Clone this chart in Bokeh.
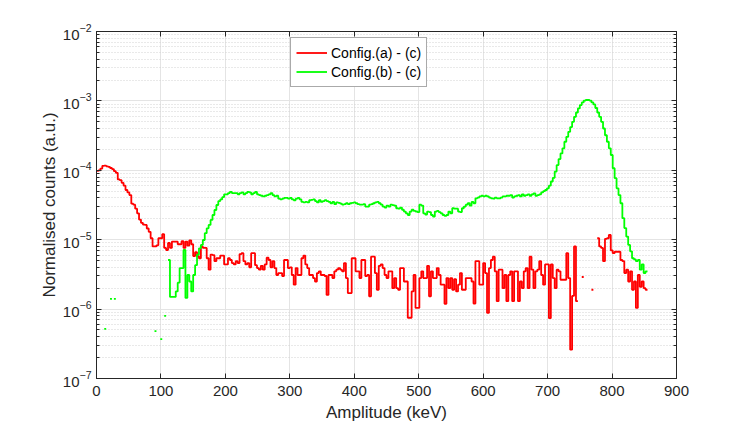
from bokeh.plotting import figure
from bokeh.models import (LinearAxis, LogAxis, FixedTicker, Legend, LegendItem,
                          CustomJSTickFormatter, Range1d)
from bokeh.embed import file_html
from bokeh.resources import INLINE

nan = float("nan")

# ---------------- data ----------------
# histogram bin edges (keV), 3 keV bins from 0 to 855
bin_edges_kev = list(range(0, 858, 3))

# normalised counts, in units of 1e-6 (nan = empty bin)
config_a_minus_c_e6 = [
    98, 100, 106, 116, 117, 114, 112, 108, 104, 97,
    92, 74, 72, 66, 60, 52, 48, 44, 33, 32,
    28, 24, 19.5, 17.5, 16.5, 16.3, 14.5, 13, 10.5, 8.0,
    8.0, 8.3, 10.5, 10.5, 12, 7.6, 7.1, 9.0, 7.6, 9.4,
    9.4, 9.4, 8.6, 8.6, 9.5, 7.6, 9.4, 8.2, 9.8, 8.6,
    5.8, 6.6, 5.8, 5.4, 8.0, 7.6, 7.6, 5.4, 3.7, 6.1,
    6.0, 4.9, 5.4, 5.4, 5.9, 5.9, 4.4, 4.4, 5.4, 5.1,
    4.6, 4.4, 4.9, 4.6, 6.2, 6.4, 4.9, 4.4, 4.6, 4.0,
    6.4, 6.4, 4.3, 3.9, 3.7, 4.2, 3.7, 4.4, 5.5, 5.1,
    4.0, 4.9, 3.9, 3.1, 3.3, 3.3, 3.0, 5.1, 5.1, 3.9,
    4.0, 3.1, 2.25, 3.9, 3.1, 3.1, 5.4, 5.9, 4.4, 3.9,
    3.1, 3.1, 2.8, 2.5, 3.3, 3.5, 3.1, 3.1, 3.0, 1.6,
    3.1, 3.1, 2.8, 3.5, 3.7, 3.9, 3.7, 3.5, 4.6, 2.8,
    1.7, 1.7, 5.4, 5.4, 3.5, 3.5, 2.8, 5.1, 5.1, 3.0,
    3.1, 1.53, 5.7, 5.7, 3.3, 1.9, 4.2, 4.4, 3.9, 3.1,
    2.8, 3.5, 3.5, 2.0, 2.8, 2.0, 1.9, 3.9, 3.9, 2.5,
    2.5, 0.75, 0.75, 1.8, 3.1, 1.04, 1.04, 2.8, 3.5, 2.8,
    2.8, 4.2, 1.53, 3.5, 2.8, 2.8, 3.9, 3.1, 2.25, 2.25,
    1.19, 2.8, 2.0, 2.8, 1.9, 2.7, 1.8, 2.25, 3.3, 1.9,
    1.9, 2.8, 2.8, 2.8, 2.5, 1.2, 4.9, 4.9, 2.25, 2.25,
    4.6, 3.3, 0.88, 3.9, 5.1, 5.7, 3.5, 1.3, 3.7, 3.7,
    2.0, 3.1, 1.3, 3.1, 3.5, 1.3, 3.5, 3.5, 1.3, 2.5,
    2.0, 3.5, 3.9, 2.0, 5.7, 3.7, 2.0, 3.5, 3.7, 4.9,
    3.1, 2.25, 4.4, 4.4, 0.74, 4.4, 2.8, 2.0, 3.7, 3.5,
    2.65, 2.65, 2.65, 6.4, 2.8, 0.26, 1.55, 8.0, 1.3, nan,
    nan, 2.9, nan, nan, nan, nan, 1.9, nan, nan, 10.5,
    8.0, 7.6, 4.9, 10.3, 10.5, 11.7, 7.0, 6.4, 6.7, 6.7,
    6.7, 5.1, 4.9, 3.3, 3.7, 2.5, 3.5, 1.9, 2.5, 1.04,
    3.1, 2.1, 2.5, 2.0, 1.9,
]

config_b_minus_c_e6 = [
    nan, nan, nan, nan, 0.52, nan, nan, 1.4, nan, 1.4,
    nan, nan, nan, nan, nan, nan, nan, nan, nan, nan,
    nan, nan, nan, nan, nan, nan, nan, nan, nan, nan,
    0.48, nan, nan, 0.37, nan, 0.8, nan, 5.1, 1.5, 1.5,
    1.5, 1.8, 2.4, 3.9, 3.9, 7.1, 1.45, 3.1, 2.5, 1.8,
    3.1, 4.3, 6.1, 7.5, 8.4, 9.9, 12.4, 14.6, 16.3, 19.3,
    22.7, 26.8, 31.6, 36, 38, 41, 45, 45, 47, 49,
    47, 47, 47, 45, 47, 48, 45, 47, 49, 48,
    45, 47, 49, 45, 44, 43, 42, 43, 44, 45,
    47, 44, 42, 43, 39, 38, 39, 40, 40, 39,
    40, 38, 37, 39, 40, 38, 35, 34.5, 35, 34.5,
    37, 37.5, 38, 36, 34.5, 37, 35, 36, 37, 36,
    35, 33.5, 35, 32.5, 34.5, 34, 33, 32, 32.5, 33.5,
    32.5, 33.5, 34, 34.5, 33.5, 32.5, 32, 32, 32.5, 30,
    30, 32, 32.5, 33.5, 34.5, 35, 33.5, 32, 30, 29,
    31, 30, 32, 31.5, 31, 28.4, 28, 29, 27, 25.4,
    24, 22.7, 25.4, 27, 26, 25.5, 25, 32, 31, 24,
    23, 25.4, 25, 22.7, 21.6, 25.4, 26, 25, 24, 22.7,
    22, 22.7, 25.4, 24, 28.4, 28, 28, 25.4, 25, 28.4,
    30, 32, 33.5, 31, 35, 33.5, 39.5, 40.5, 42, 43,
    42, 43, 42, 40.5, 39.5, 39, 40.5, 39.5, 39.5, 40.5,
    42, 42, 43, 43, 44, 40.5, 42, 43, 44, 42,
    45, 43, 44, 45, 43, 45, 46.6, 43, 44, 45,
    48, 50, 52, 55, 60, 69, 78, 96, 119, 145,
    175, 207, 258, 304, 358, 420, 500, 590, 680, 780,
    870, 950, 1010, 1030, 1030, 1010, 950, 890, 790, 680,
    590, 500, 400, 320, 258, 207, 166, 107, 77, 55,
    44, 33.5, 20.4, 14.7, 11.1, 8.4, 6.8, 5.4, 5.2, 4.9,
    5.1, 3.7, 4.4, 3.3, 3.5,
]

series_labels = ["Config.(a) - (c)", "Config.(b) - (c)"]
series_colors = ["#ff0000", "#00ff00"]

x_tick_values = [0, 100, 200, 300, 400, 500, 600, 700, 800, 900]
y_major_ticks = [1e-7, 1e-6, 1e-5, 1e-4, 1e-3, 1e-2]
y_minor_ticks = [k * d for d in [1e-7, 1e-6, 1e-5, 1e-4, 1e-3] for k in range(2, 10)]

x_label = "Amplitude (keV)"
y_label = "Normalised counts (a.u.)"
scale_e6 = 1e-6


def stairs(edges, vals):
    xs, ys = [], []
    prev = False
    for i, v in enumerate(vals):
        if v != v:
            if prev:
                xs.append(nan)
                ys.append(nan)
            prev = False
            continue
        y = v * scale_e6
        xs += [edges[i], edges[i + 1]]
        ys += [y, y]
        prev = True
    return xs, ys


FONT = "Liberation Sans"
DARK = "#262626"

p = figure(width=745, height=428, x_range=Range1d(0, 900), y_range=Range1d(1e-7, 1e-2),
           y_axis_type="log", output_backend="svg", toolbar_location=None,
           min_border_left=96, min_border_right=69, min_border_top=31, min_border_bottom=50)
p.background_fill_color = "white"
p.border_fill_color = "white"
p.outline_line_color = DARK
p.outline_line_width = 1

xt = FixedTicker(ticks=x_tick_values)
yt = FixedTicker(ticks=y_major_ticks, minor_ticks=y_minor_ticks)

for ax in p.xaxis:
    ax.ticker = xt
for ax in p.yaxis:
    ax.ticker = yt

p.xgrid.ticker = xt
p.ygrid.ticker = yt
p.xgrid.grid_line_color = "#e4e4e4"
p.ygrid.grid_line_color = "#e4e4e4"
p.xgrid.grid_line_width = 1
p.ygrid.grid_line_width = 1
p.ygrid.minor_grid_line_color = "#d2d2d2"
p.ygrid.minor_grid_line_dash = "1 2"
p.ygrid.minor_grid_line_width = 1


def style_axis(ax, minor=False):
    ax.axis_line_color = DARK
    ax.major_tick_line_color = DARK
    ax.major_tick_in = 5
    ax.major_tick_out = 0
    if minor:
        ax.minor_tick_line_color = DARK
        ax.minor_tick_in = 3
        ax.minor_tick_out = 0
    else:
        ax.minor_tick_line_color = None
    ax.major_label_text_font = FONT
    ax.major_label_text_font_size = "15px"
    ax.major_label_text_color = DARK
    ax.axis_label_text_font = FONT
    ax.axis_label_text_font_size = "17px"
    ax.axis_label_text_font_style = "normal"
    ax.axis_label_text_color = DARK


for ax in p.xaxis:
    style_axis(ax)
    ax.axis_label = x_label
    ax.major_label_standoff = 7
    ax.axis_label_standoff = 4
for ax in p.yaxis:
    style_axis(ax, minor=True)
    ax.axis_label = y_label
    ax.major_label_standoff = 5
    ax.axis_label_standoff = 1

blank = CustomJSTickFormatter(code="return '';")
top_ax = LinearAxis(ticker=xt, formatter=blank)
style_axis(top_ax)
top_ax.major_label_standoff = 0
p.add_layout(top_ax, "above")
right_ax = LogAxis(ticker=yt, formatter=blank)
style_axis(right_ax, minor=True)
right_ax.major_label_standoff = 0
p.add_layout(right_ax, "right")

renderers = []
for vals, col in zip([config_a_minus_c_e6, config_b_minus_c_e6], series_colors):
    xs, ys = stairs(bin_edges_kev, vals)
    r = p.line(xs, ys, line_color=col, line_width=1.8)
    renderers.append(r)

legend = Legend(items=[LegendItem(label=lab, renderers=[r]) for lab, r in zip(series_labels, renderers)],
                location=(194, 291))
legend.label_text_font = FONT
legend.label_text_font_size = "14px"
legend.label_text_color = "#000000"
legend.glyph_width = 31
legend.glyph_height = 19
legend.label_height = 19
legend.label_standoff = 4
legend.padding = 5
legend.spacing = 0
legend.margin = 0
legend.border_line_color = "#555555"
legend.border_line_width = 1
legend.background_fill_color = "white"
legend.background_fill_alpha = 1.0
p.add_layout(legend)

open("out.html", "w").write(file_html(p, INLINE))
